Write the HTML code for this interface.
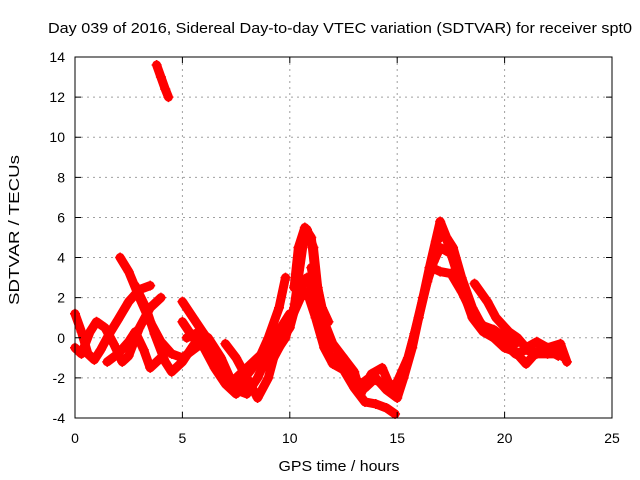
<!DOCTYPE html>
<html><head><meta charset="utf-8"><style>
body{margin:0;background:#fff;}
svg{display:block;font-family:"Liberation Sans",sans-serif;}
</style></head><body>
<svg id="chart" width="640" height="480">
<text x="340" y="33" font-size="15" text-anchor="middle" textLength="584" lengthAdjust="spacingAndGlyphs">Day 039 of 2016, Sidereal Day-to-day VTEC variation (SDTVAR) for receiver spt0</text>
<text x="339" y="471" font-size="15" text-anchor="middle" textLength="121" lengthAdjust="spacingAndGlyphs">GPS time / hours</text>
<text transform="translate(19,230) rotate(-90)" font-size="15" text-anchor="middle" textLength="150" lengthAdjust="spacingAndGlyphs">SDTVAR / TECUs</text>
<g id="grid"></g><g id="marks"></g>
<rect x="75" y="57" width="537" height="361" fill="none" stroke="#000" stroke-width="1"/>
<g id="ticks"></g>
</svg>
<script>
const xTicks=[0,5,10,15,20,25];
const yTicks=[-4,-2,0,2,4,6,8,10,12,14];
const trackA=[[0,1.2],[0.3,0.3],[0.6,-0.8],[0.9,-1.1],[1.2,-0.6],[1.6,0.2],[2.0,0.9],[2.5,1.8],[3.0,2.4],[3.5,2.6]];
const trackB=[[0,-0.5],[0.3,-0.8],[0.7,0.3],[1.0,0.8],[1.4,0.5],[1.8,-0.3],[2.2,-1.2],[2.5,-0.9],[3.0,0.5],[3.5,1.5],[4.0,2.0]];
const trackC=[[2.1,4.0],[2.5,3.3],[3.0,2.0],[3.5,0.8],[4.0,-0.2],[4.5,-0.8],[5.0,-1.0],[5.5,-0.6],[6.0,-0.2]];
const trackD=[[2.8,2.6],[3.3,1.5],[3.7,0.2],[4.2,-1.2],[4.5,-1.7],[5.0,-1.2],[5.5,-0.4],[6.0,0.2]];
const trackE=[[1.5,-1.2],[2.0,-0.8],[2.5,-0.2],[2.8,0.3],[3.2,-0.6],[3.5,-1.5],[4.0,-1.0]];
const trackF=[[5.0,1.8],[5.5,1.0],[6.0,0.2],[6.5,-0.8],[7.0,-1.8],[7.5,-2.6],[8.0,-2.8],[8.5,-2.0],[9.0,-0.8],[9.5,-0.3],[10.0,0.5],[10.5,2.5],[10.8,3.0],[11.2,2.0],[11.6,0.5],[12.0,-0.5]];
const trackG=[[5.0,0.8],[5.5,0.0],[6.0,-0.5],[6.5,-1.5],[7.0,-2.3],[7.5,-2.8],[8.0,-2.2]];
const trackH=[[5.2,0.0],[5.8,0.3],[6.2,0.0],[6.8,-1.0],[7.3,-2.2],[8.0,-1.5],[8.5,-1.0],[9.0,-0.5]];
const trackI=[[7.0,-0.3],[7.5,-1.0],[8.0,-2.0],[8.5,-3.0],[9.0,-2.0],[9.3,-0.8],[9.8,0.0],[10.2,1.5],[10.6,4.5],[10.8,5.4],[11.1,4.5],[11.3,2.5],[11.6,0.8],[12.0,-0.3],[12.5,-1.0],[13.0,-2.0],[13.5,-2.5],[14.0,-2.0],[14.5,-2.6],[15.0,-3.0],[15.3,-2.0],[15.7,-0.5],[16.0,1.0],[16.4,2.8],[16.7,3.8],[17.0,4.5],[17.5,4.2],[18.0,2.5],[18.5,1.0],[19.0,0.3],[19.5,0.0],[20.0,-0.3],[20.5,-0.8],[21.0,-0.6],[21.5,-0.8],[22.0,-0.8],[22.5,-0.8],[22.8,-1.0]];
const trackJ=[[9.0,-1.5],[9.5,-0.5],[10.0,0.8],[10.5,2.0],[10.8,2.3],[11.2,1.0],[11.6,-0.5],[12.0,-1.3],[12.5,-1.6],[13.0,-2.5],[13.5,-3.2],[14.0,-3.3],[14.5,-3.5],[14.9,-3.8]];
const trackK=[[12.5,-1.0],[13.0,-1.7],[13.3,-2.8],[13.8,-1.8],[14.3,-1.5],[14.7,-2.5],[15.0,-2.2],[15.5,-1.0],[16.0,1.0],[16.5,3.5],[17.0,5.8],[17.3,5.0],[17.6,4.5],[18.0,3.0],[18.5,1.5],[19.0,0.5],[19.5,0.0],[20.0,-0.5],[20.5,-0.7],[21.0,-1.3],[21.5,-0.7],[22.0,-0.6],[22.5,-0.9]];
const trackL=[[16.6,3.5],[17.0,3.3],[17.5,3.2],[18.0,2.3],[18.5,1.2],[19.0,0.6],[19.5,0.4],[20.0,0.0],[20.5,-0.3]];
const trackM=[[18.6,2.7],[19.2,1.8],[19.6,1.0],[20.2,0.3],[20.6,0.0],[21.0,-0.5],[21.5,-0.2],[22.0,-0.5],[22.6,-0.3],[22.9,-1.2]];
const trackN=[[10.2,2.5],[10.4,4.5],[10.7,5.5],[11.0,5.0],[11.2,3.0],[11.5,1.5],[11.8,0.8]];
const trackO=[[8.5,-1.2],[9.0,0.0],[9.5,1.5],[9.8,3.0]];
const trackP=[[3.8,13.6],[4.0,13.0],[4.2,12.4],[4.35,12.0]];
const trackQ=[[15.0,-2.6],[15.4,-1.5],[15.8,0.2],[16.2,2.0],[16.5,3.2],[16.8,4.8],[17.2,5.2],[17.6,4.0],[18.0,2.8]];
const trackR=[[6.0,0.0],[6.5,-1.0],[7.0,-2.0],[7.6,-2.4],[8.2,-1.6],[8.8,-0.6],[9.4,0.2],[10.0,1.2]];
const trackS=[[11.0,3.5],[11.4,1.0],[11.8,-0.8],[12.3,-1.2],[12.8,-1.8],[13.2,-2.4],[13.7,-2.0],[14.2,-2.2]];
const tracks=[trackA,trackB,trackC,trackD,trackE,trackF,trackG,trackH,trackI,trackJ,trackK,trackL,trackM,trackN,trackO,trackP,trackQ,trackR,trackS];
const NS="http://www.w3.org/2000/svg";
const X0=75,X1=612,Y0=418,Y1=57,XMIN=0,XMAX=25,YMIN=-4,YMAX=14;
function sx(v){return X0+(v-XMIN)/(XMAX-XMIN)*(X1-X0);}
function sy(v){return Y0-(v-YMIN)/(YMAX-YMIN)*(Y0-Y1);}
function mk(t,a,p){const e=document.createElementNS(NS,t);for(const k in a)e.setAttribute(k,a[k]);p.appendChild(e);return e;}
const grid=document.getElementById('grid'),ticks=document.getElementById('ticks'),marks=document.getElementById('marks');
xTicks.forEach(v=>{const x=sx(v);
 if(v>XMIN&&v<XMAX){const g=mk('line',{x1:x,x2:x,y1:Y1,y2:Y0,stroke:'#a0a0a0','stroke-dasharray':'2,4'},grid);
 
 }
 const tk=mk('path',{d:`M${x},${Y0}v-6M${x},${Y1}v6`,stroke:'#000'},ticks);
 
 
 const t=mk('text',{x:x,y:443,'font-size':14,'text-anchor':'middle'},ticks);t.textContent=v;
 
 });
yTicks.forEach(v=>{const y=sy(v);
 if(v>YMIN&&v<YMAX){const g=mk('line',{x1:X0,x2:X1,y1:y,y2:y,stroke:'#a0a0a0','stroke-dasharray':'2,4'},grid);
 
 }
 const tk=mk('path',{d:`M${X0},${y}h6M${X1},${y}h-6`,stroke:'#000'},ticks);
 
 
 const t=mk('text',{x:65,y:y+5,'font-size':14,'text-anchor':'end'},ticks);t.textContent=v;
 
 });
tracks.forEach((tr,i)=>{
 const pl=mk('polyline',{points:tr.map(p=>sx(p[0])+','+sy(p[1])).join(' '),fill:'none',stroke:'#ff0000','stroke-width':9,'stroke-linejoin':'round','stroke-linecap':'round'},marks);
 
 
 tr.forEach(p=>{const x=sx(p[0]),y=sy(p[1]);
  const m=mk('path',{d:`M${x-5},${y}h10M${x},${y-5}v10`,stroke:'#ff0000','stroke-width':1.5},marks);
  
  });
});
</script>
</body></html>
